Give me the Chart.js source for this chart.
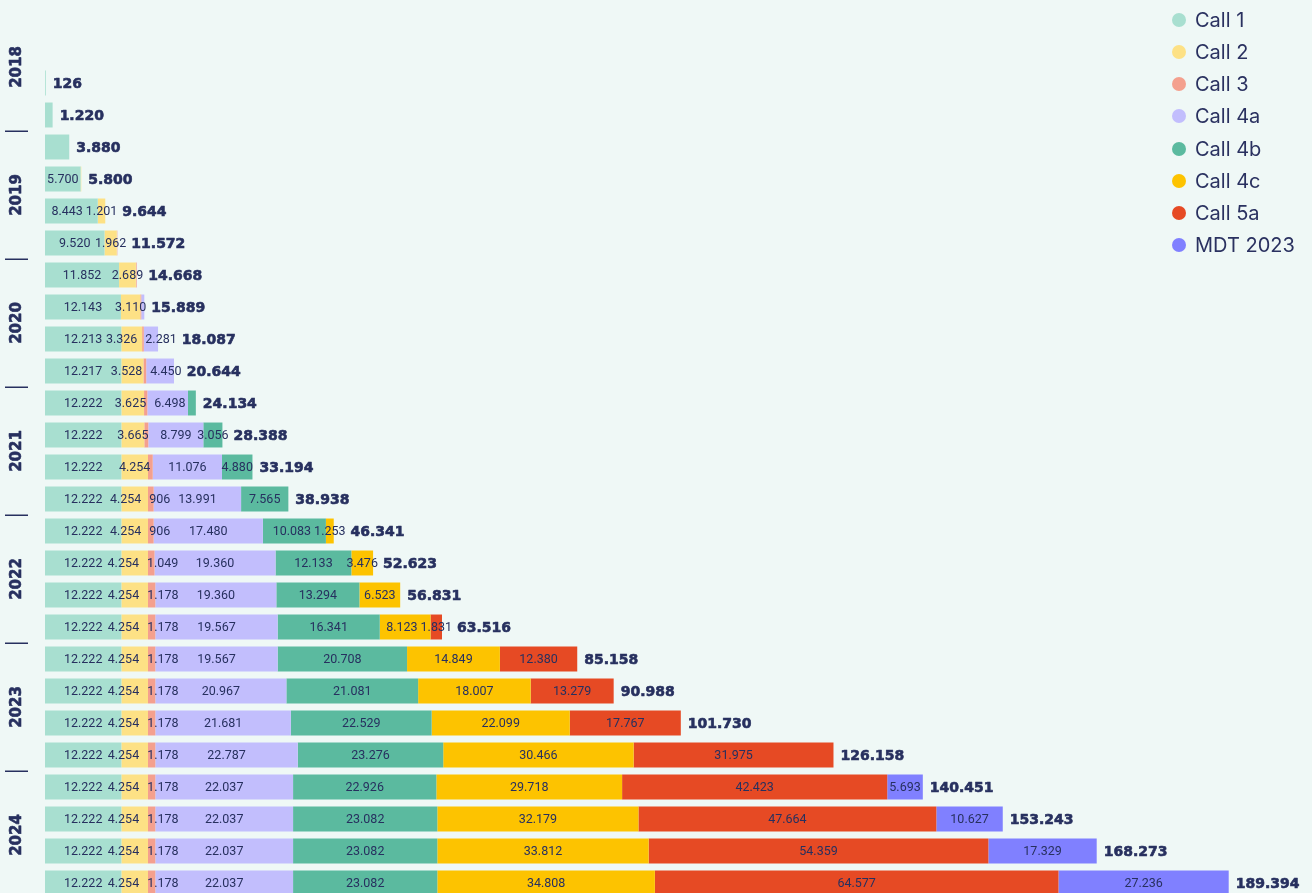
<!DOCTYPE html>
<html><head><meta charset="utf-8">
<script src="https://cdn.jsdelivr.net/npm/chart.js@4.4.1/dist/chart.umd.min.js"></script>
<style>
html,body{margin:0;padding:0;background:#eff8f6;overflow:hidden;width:1312px;height:893px;}
#wrap{position:relative;width:1312px;height:893px;}
canvas{position:absolute;left:0;top:0;}
#legend{position:absolute;left:1172px;top:4px;font-family:Inter,sans-serif;font-size:20px;color:#2a3160;}
.item{display:flex;align-items:center;height:32.15px;}
.dot{width:14px;height:14px;border-radius:50%;margin-right:9px;flex:none;}
</style></head>
<body><div id="wrap"><canvas id="c" width="1312" height="900"></canvas><div id="legend"></div></div>
<script>
// ---- data ----
const quarters = ["2018 Q1","2018 Q2","2018 Q3","2018 Q4","2019 Q1","2019 Q2","2019 Q3","2019 Q4",
  "2020 Q1","2020 Q2","2020 Q3","2020 Q4","2021 Q1","2021 Q2","2021 Q3","2021 Q4",
  "2022 Q1","2022 Q2","2022 Q3","2022 Q4","2023 Q1","2023 Q2","2023 Q3","2023 Q4",
  "2024 Q1","2024 Q2","2024 Q3","2024 Q4"];
const years = ["2018","2019","2020","2021","2022","2023","2024"];
const seriesNames = ["Call 1","Call 2","Call 3","Call 4a","Call 4b","Call 4c","Call 5a","MDT 2023"];
const seriesColors = ["#a8dfd0","#fde185","#f4a08e","#c2befd","#5bba9f","#fdc300","#e64a24","#8080ff"];
const call1 = [null,null,126,1220,3880,5700,8443,9520,11852,12143,12213,12217,
  12222,12222,12222,12222,12222,12222,12222,12222,12222,12222,12222,12222,12222,12222,12222,12222];
const call2 = [null,null,null,null,null,100,1201,1962,2689,3110,3326,3528,3625,3665,
  4254,4254,4254,4254,4254,4254,4254,4254,4254,4254,4254,4254,4254,4254];
const call3 = [null,null,null,null,null,null,null,90,127,150,267,449,530,646,762,906,906,1049,
  1178,1178,1178,1178,1178,1178,1178,1178,1178,1178];
const call4a = [null,null,null,null,null,null,null,null,null,486,2281,4450,6498,8799,11076,13991,
  17480,19360,19360,19567,19567,20967,21681,22787,22037,22037,22037,22037];
const call4b = [null,null,null,null,null,null,null,null,null,null,null,null,1259,3056,4880,7565,
  10083,12133,13294,16341,20708,21081,22529,23276,22926,23082,23082,23082];
const call4c = [null,null,null,null,null,null,null,null,null,null,null,null,null,null,null,null,
  1253,3476,6523,8123,14849,18007,22099,30466,29718,32179,33812,34808];
const call5a = [null,null,null,null,null,null,null,null,null,null,null,null,null,null,null,null,
  null,null,null,1831,12380,13279,17767,31975,42423,47664,54359,64577];
const mdt2023 = [null,null,null,null,null,null,null,null,null,null,null,null,null,null,null,null,
  null,null,null,null,null,null,null,null,5693,10627,17329,27236];
const totals = [null,null,126,1220,3880,5800,9644,11572,14668,15889,18087,20644,24134,28388,33194,38938,
  46341,52623,56831,63516,85158,90988,101730,126158,140451,153243,168273,189394];

const seriesData = [call1,call2,call3,call4a,call4b,call4c,call5a,mdt2023];
const NAVY = "#27305f";
const fmt = v => String(v).replace(/\B(?=(\d{3})+(?!\d))/g, ".");

// legend (HTML)
const lg = document.getElementById('legend');
seriesNames.forEach((n,i)=>{
  const d=document.createElement('div');d.className='item';
  d.innerHTML='<span class="dot" style="background:'+seriesColors[i]+'"></span><span>'+n+'</span>';
  lg.appendChild(d);
});

const labelPlugin = {
  id:'labels',
  afterDatasetsDraw(chart){
    const c=chart.ctx, xs=chart.scales.x, ys=chart.scales.y;
    c.save();
    c.fillStyle=NAVY; c.strokeStyle=NAVY; c.textBaseline='middle'; c.lineJoin='round';
    for(let i=0;i<quarters.length;i++){
      if(totals[i]==null) continue;
      const y=ys.getPixelForValue(i);
      let sum=0; const segs=[];
      chart.data.datasets.forEach(ds=>{const v=ds.data[i]; if(v){segs.push({v,start:sum,end:sum+v}); sum+=v;}});
      const barEnd=xs.getPixelForValue(sum);
      let tx=barEnd+7;
      if(segs.length>1){
        c.font='12.5px Roboto';
        const labs=segs.filter(s=>s.v>=900).map(s=>{
          const t=fmt(s.v); const w=c.measureText(t).width;
          const x0=xs.getPixelForValue(s.start), x1=xs.getPixelForValue(s.end);
          return {t,w,x0,x1,cx:(x0+x1)/2,fits:w+4<=x1-x0,show:true};
        });
        let prev=null;
        for(const b of labs){
          if(prev){
            if(prev.fits){
              const ov=(prev.cx+prev.w/2+3)-(b.cx-b.w/2);
              if(ov>0){
                const room=(prev.cx-prev.w/2)-(prev.x0+1);
                if(room>=ov){ prev.cx-=ov; } else { b.show=false; continue; }
              }
            } else {
              const ov=(prev.cx+prev.w/2+8)-(b.cx-b.w/2);
              if(ov>0){ prev.cx-=ov/2; b.cx+=ov/2; }
            }
          }
          prev=b;
        }
        c.textAlign='center';
        labs.forEach(l=>{ if(!l.show) return; c.fillText(l.t,l.cx,y+1); tx=Math.max(tx,l.cx+l.w/2+5); });
      }
      c.font='bold 14px "DejaVu Sans"'; c.textAlign='left'; c.lineWidth=0.6;
      c.strokeText(fmt(totals[i]),tx,y+1);
      c.fillText(fmt(totals[i]),tx,y+1);
    }
    // year labels and separators
    c.font='bold 15px "DejaVu Sans"';
    years.forEach((yr,k)=>{
      const y0=ys.getPixelForValue(k*4), y1=ys.getPixelForValue(k*4+3);
      c.save(); c.translate(17,(y0+y1)/2); c.rotate(-Math.PI/2);
      c.textAlign='center'; c.textBaseline='middle'; c.lineWidth=0.6;
      c.strokeText(yr,0,0); c.fillText(yr,0,0); c.restore();
      if(k>0){
        const sy=Math.round((ys.getPixelForValue(k*4-1)+y0)/2)+0.25;
        c.lineWidth=1.5;
        c.beginPath(); c.moveTo(5,sy); c.lineTo(28,sy); c.stroke();
      }
    });
    c.restore();
  }
};

new Chart(document.getElementById('c').getContext('2d'),{
  type:'bar',
  data:{labels:quarters,datasets:seriesNames.map((n,i)=>({label:n,data:seriesData[i],backgroundColor:seriesColors[i],
    borderWidth:0,categoryPercentage:1,barPercentage:0.78}))},
  options:{indexAxis:'y',responsive:false,animation:false,devicePixelRatio:1,
    layout:{padding:{left:45,right:17,top:3,bottom:1}},
    scales:{x:{stacked:true,display:false,min:0,max:200000},y:{stacked:true,display:false}},
    plugins:{legend:{display:false},tooltip:{enabled:false}}},
  plugins:[labelPlugin]
});
</script></body></html>
